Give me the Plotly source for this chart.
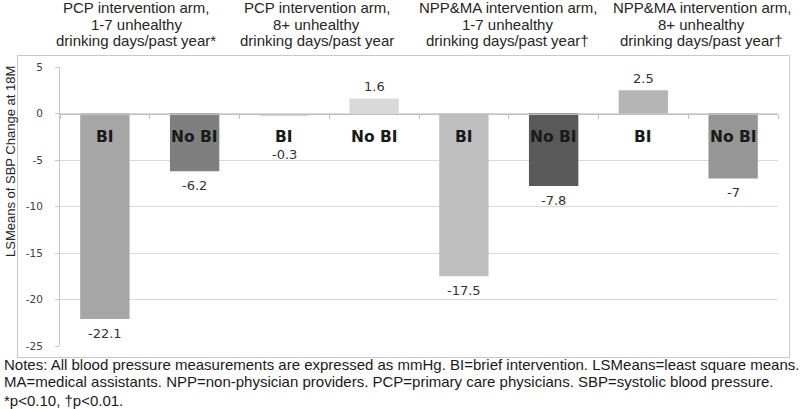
import plotly.graph_objects as go

# ---- data ----
bar_names = ["BI", "No BI", "BI", "No BI", "BI", "No BI", "BI", "No BI"]
values = [-22.1, -6.2, -0.3, 1.6, -17.5, -7.8, 2.5, -7.0]
value_text = ["-22.1", "-6.2", "-0.3", "1.6", "-17.5", "-7.8", "2.5", "-7"]
bar_colors = ["#a6a6a6", "#7f7f7f", "#d9d9d9", "#d9d9d9",
              "#bfbfbf", "#595959", "#b4b4b4", "#969696"]
group_titles = [
    ["PCP intervention arm,", "1-7 unhealthy", "drinking days/past year*"],
    ["PCP intervention arm,", "8+ unhealthy", "drinking days/past year"],
    ["NPP&MA intervention arm,", "1-7 unhealthy", "drinking days/past year\u2020"],
    ["NPP&MA intervention arm,", "8+ unhealthy", "drinking days/past year\u2020"],
]
y_ticks = [5, 0, -5, -10, -15, -20, -25]
y_title = "LSMeans of SBP Change at 18M"
notes = [
    "Notes: All blood pressure measurements are expressed as mmHg. BI=brief intervention. LSMeans=least square means.",
    "MA=medical assistants. NPP=non-physician providers. PCP=primary care physicians. SBP=systolic blood pressure.",
    "*p<0.10, \u2020p<0.01.",
]

# ---- layout constants ----
W, H = 800, 409
ML, MR, MT, MB = 60, 22, 67, 63
PH = H - MT - MB
PW = W - ML - MR
YMIN, YMAX = -25, 5


def py(pix):  # pixel y -> paper y
    return (H - MB - pix) / PH


def px(pix):  # pixel x -> paper x
    return (pix - ML) / PW


xs = list(range(len(values)))

fig = go.Figure()
fig.add_trace(go.Bar(
    x=xs, y=values, width=0.55,
    marker=dict(color=bar_colors, line=dict(width=0)),
    hoverinfo="skip", showlegend=False,
))

annotations = []

# outer chart frame (bordered empty annotation box)
FX0, FX1, FY0, FY1 = 17, 790, 55, 358
annotations.append(dict(
    x=px((FX0 + FX1) / 2), y=py((FY0 + FY1) / 2), xref="paper", yref="paper",
    text=" ", showarrow=False, xanchor="center", yanchor="middle",
    width=FX1 - FX0 - 2, height=FY1 - FY0 - 2, borderpad=0,
    bordercolor="#c8c8c8", borderwidth=1, bgcolor="rgba(0,0,0,0)"))

# bar name labels (in a band just below zero)
for x, name in zip(xs, bar_names):
    annotations.append(dict(
        x=x, y=-2.5, xref="x", yref="y", text="<b>%s</b>" % name,
        showarrow=False, yanchor="middle",
        font=dict(family="DejaVu Sans", size=15.5, color="#1a1a1a")))
# value labels
for x, v, t in zip(xs, values, value_text):
    if v >= 0:
        annotations.append(dict(
            x=x, y=v, xref="x", yref="y", text=t, showarrow=False,
            yanchor="middle", yshift=12,
            font=dict(family="DejaVu Sans", size=13, color="#333333")))
    else:
        annotations.append(dict(
            x=x, y=min(v, -2.9), xref="x", yref="y", text=t, showarrow=False,
            yanchor="middle", yshift=-14,
            font=dict(family="DejaVu Sans", size=13, color="#333333")))

# group titles
title_x = [0.35, 2.36, 4.49, 6.65]
line_pix = [8, 24, 40]
for gx, lines in zip(title_x, group_titles):
    for lp, ln in zip(line_pix, lines):
        annotations.append(dict(
            x=gx, y=py(lp), xref="x", yref="paper", text=ln,
            showarrow=False, yanchor="middle", xanchor="center",
            font=dict(family="Liberation Sans, Arial", size=15, color="#262626")))

# y-axis title
annotations.append(dict(
    x=px(10), y=py(162), xref="paper", yref="paper", text=y_title,
    textangle=-90, showarrow=False, xanchor="center", yanchor="middle",
    font=dict(family="Liberation Sans, Arial", size=13, color="#262626")))

# notes
for lp, ln in zip([364, 382, 400], notes):
    annotations.append(dict(
        x=px(2), y=py(lp), xref="paper", yref="paper", text=ln,
        showarrow=False, xanchor="left", yanchor="middle", align="left",
        font=dict(family="Liberation Sans, Arial", size=15, color="#1a1a1a")))

fig.update_layout(
    width=W, height=H,
    margin=dict(l=ML, r=MR, t=MT, b=MB),
    paper_bgcolor="white", plot_bgcolor="white",
    annotations=annotations,
    xaxis=dict(
        range=[-0.5, 7.5], anchor="free", position=(0 - YMIN) / (YMAX - YMIN),
        showline=True, linecolor="#bfbfbf", linewidth=1,
        tickmode="array", tickvals=[i - 0.5 for i in range(len(values) + 1)],
        ticks="outside", ticklen=4, tickcolor="#bfbfbf",
        showticklabels=False, showgrid=False, zeroline=False, fixedrange=True,
    ),
    yaxis=dict(
        range=[YMIN, YMAX], tickmode="array", tickvals=y_ticks,
        ticktext=[str(t) for t in y_ticks],
        showgrid=True, gridcolor="#d9d9d9", gridwidth=1,
        showline=True, linecolor="#c8c8c8", linewidth=1,
        ticks="outside", ticklen=4, tickcolor="#c8c8c8",
        ticklabelstandoff=10,
        zeroline=False,
        tickfont=dict(family="DejaVu Sans", size=10.5, color="#404040"),
        fixedrange=True,
    ),
)

fig.write_html(
    "out.html",
    config={"displayModeBar": False},
    post_script="document.body.style.margin='0';document.body.style.overflow='hidden';",
)
